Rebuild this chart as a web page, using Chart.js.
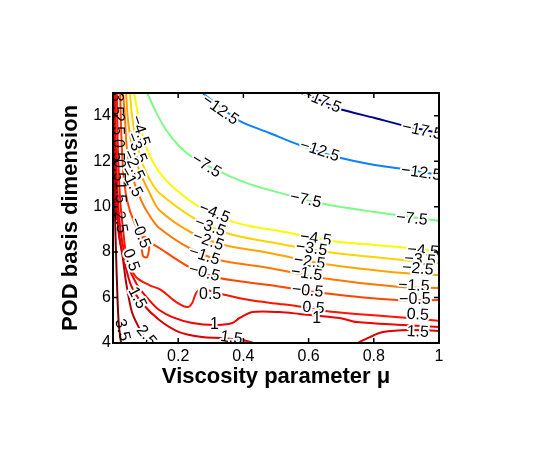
<!DOCTYPE html>
<html><head><meta charset="utf-8">
<script src="https://cdn.jsdelivr.net/npm/chart.js@4.4.1/dist/chart.umd.min.js"></script>
<style>html,body{margin:0;padding:0;background:#fff}</style>
</head><body>
<canvas id="c" width="540" height="457"></canvas>
<script>
// ---------- data ----------
const xTicks = [0.2, 0.4, 0.6, 0.8, 1];
const yTicks = [4, 6, 8, 10, 12, 14];
const levels = [-17.5, -12.5, -7.5, -4.5, -3.5, -2.5, -1.5, -0.5, -0.5, 0.5, 1, 1.5, 1.5, 2.5, 3.5];

// contour lines as [mu, dimension] pairs
const cM175 = [[0.578,15.0],[0.634,14.69],[0.686,14.34],[0.803,13.90],[0.911,13.50],[1.003,13.24]];
const cM125 = [[0.274,15.0],[0.326,14.43],[0.388,13.77],[0.480,13.24],[0.572,12.71],[0.686,12.18],[0.803,11.83],[0.911,11.61],[1.003,11.39]];
const cM75 = [[0.105,15.0],[0.132,14.16],[0.163,13.37],[0.203,12.67],[0.243,12.18],[0.317,11.61],[0.403,11.08],[0.480,10.73],[0.634,10.16],[0.803,9.76],[1.003,9.37]];
const cM45 = [[0.065,15.0],[0.074,14.25],[0.086,13.37],[0.108,12.40],[0.142,11.52],[0.194,10.73],[0.265,9.98],[0.342,9.46],[0.418,9.15],[0.511,8.93],[0.671,8.49],[0.803,8.31],[0.911,8.18],[1.003,8.00]];
const cM35 = [[0.052,15.0],[0.058,14.03],[0.071,12.93],[0.092,11.83],[0.117,11.08],[0.142,10.60],[0.243,9.54],[0.348,8.84],[0.480,8.44],[0.658,8.00],[0.889,7.65],[1.003,7.52]];
const cM25 = [[0.040,15.0],[0.046,13.81],[0.058,12.71],[0.080,11.61],[0.111,10.64],[0.142,9.85],[0.243,8.84],[0.342,8.31],[0.480,7.96],[0.649,7.48],[0.889,7.08],[1.003,6.99]];
const cM15 = [[0.031,15.0],[0.037,13.81],[0.043,12.49],[0.058,11.39],[0.086,10.29],[0.111,9.63],[0.142,9.06],[0.234,8.18],[0.326,7.65],[0.480,7.30],[0.640,6.86],[0.880,6.46],[1.003,6.42]];
const cM05 = [[0.022,15.0],[0.025,13.37],[0.031,11.61],[0.043,10.29],[0.065,9.32],[0.095,8.62],[0.142,8.18],[0.234,7.34],[0.326,6.86],[0.480,6.55],[0.643,6.20],[0.871,5.89],[1.003,5.89]];
const cM05loop = [[0.086,8.58],[0.092,7.83],[0.105,7.78],[0.111,8.36],[0.099,8.66],[0.086,8.58]];
const cP05 = [[0.012,15.0],[0.015,12.49],[0.022,10.29],[0.031,8.97],[0.043,7.74],[0.071,6.90],[0.111,6.55],[0.148,6.33],[0.194,5.80],[0.228,5.58],[0.243,5.76],[0.255,6.20],[0.271,6.38],[0.332,6.16],[0.418,5.89],[0.511,5.72],[0.582,5.58],[0.649,5.41],[0.788,5.23],[0.911,5.10],[1.003,4.97]];
const cP1 = [[0.006,15.0],[0.009,12.49],[0.015,10.29],[0.025,8.75],[0.043,7.56],[0.074,6.55],[0.111,5.89],[0.142,5.45],[0.182,5.14],[0.243,4.88],[0.311,4.79],[0.366,4.88],[0.388,5.10],[0.428,5.36],[0.511,5.36],[0.572,5.28],[0.695,5.10],[0.748,4.92],[0.889,4.79],[1.003,4.70]];
const cP15a = [[0.003,15.0],[0.006,12.49],[0.012,10.29],[0.018,8.75],[0.034,7.65],[0.055,6.55],[0.089,5.76],[0.142,5.01],[0.203,4.48],[0.274,4.26],[0.332,4.22],[0.397,4.13],[0.443,3.96]];
const cP15b = [[0.745,3.96],[0.788,4.26],[0.828,4.48],[0.911,4.57],[1.003,4.53]];
const cP25 = [[0.002,15.0],[0.003,12.49],[0.009,10.29],[0.018,8.88],[0.031,7.65],[0.040,6.68],[0.058,5.36],[0.080,4.66],[0.105,3.96]];
const cP35 = [[0.0,15.0],[0.002,12.49],[0.005,10.29],[0.009,8.09],[0.014,5.89],[0.018,4.79],[0.025,3.96]];
const contours = [cM175, cM125, cM75, cM45, cM35, cM25, cM15, cM05, cM05loop, cP05, cP1, cP15a, cP15b, cP25, cP35];

// inline contour labels
const labelText = ['−17.5','−17.5','−12.5','−12.5','−12.5','−7.5','−7.5','−7.5',
  '−4.5','−3.5','−2.5','−1.5',
  '−4.5','−3.5','−2.5','−1.5','−0.5',
  '−4.5','−3.5','−2.5','−1.5','−0.5','0.5','1',
  '−4.5','−3.5','−2.5','−1.5','−0.5','0.5','1.5',
  '0.5','1','1.5','1.5','2.5','3.5','0.5','−0.5',
  '3.5','2.5','0.5','0.5','1.5','2.5'];
const labelMu = [0.640,0.948,0.329,0.634,0.945,0.286,0.591,0.917,
  0.083,0.071,0.062,0.055,
  0.311,0.298,0.292,0.280,0.280,
  0.622,0.609,0.603,0.594,0.597,0.615,0.625,
  0.951,0.942,0.935,0.923,0.926,0.935,0.935,
  0.298,0.311,0.363,0.074,0.102,0.028,0.055,0.083,
  0.009,0.012,0.015,0.018,0.022,0.022];
const labelDim = [14.65,13.33,14.25,12.45,11.48,11.79,10.29,9.46,
  13.33,12.58,11.83,11.08,
  9.72,9.10,8.49,7.83,7.08,
  8.58,8.14,7.56,7.04,6.29,5.54,5.06,
  8.05,7.65,7.26,6.51,5.89,5.23,4.48,
  6.11,4.79,4.22,5.98,4.31,4.57,7.65,8.84,
  14.52,13.64,12.49,11.61,10.64,9.32];
const labelAngle = [23,12,35,18,8,32,12,6,
  72,68,65,62,
  22,20,20,18,15,
  8,8,8,8,6,5,0,
  5,5,5,3,0,3,3,
  0,0,8,62,50,75,70,68,
  90,90,90,90,88,80];

// ---------- styling ----------
const FONT = "'Liberation Sans', Arial, Helvetica, sans-serif";
const levelColor = {
  '-17.5': 'rgb(0,0,140)', '-12.5': 'rgb(10,130,255)', '-7.5': 'rgb(125,250,135)',
  '-4.5': 'rgb(250,250,0)', '-3.5': 'rgb(255,210,0)', '-2.5': 'rgb(255,165,0)',
  '-1.5': 'rgb(255,118,0)', '-0.5': 'rgb(255,70,0)', '0.5': 'rgb(255,20,0)',
  '1': 'rgb(245,0,0)', '1.5': 'rgb(222,0,0)', '2.5': 'rgb(176,0,0)', '3.5': 'rgb(128,0,0)'
};

const datasets = contours.map((pts, i) => ({
  data: pts.map(p => ({x: p[0], y: p[1]})),
  borderColor: levelColor[String(levels[i])],
  borderWidth: 2,
  showLine: true,
  pointRadius: 0,
  tension: 0.3,
  fill: false
}));

const labelPlugin = {
  id: 'clabels',
  afterDatasetsDraw(chart) {
    const {ctx, chartArea: a, scales: {x, y}} = chart;
    ctx.save();
    ctx.beginPath(); ctx.rect(a.left, a.top, a.right - a.left, a.bottom - a.top); ctx.clip();
    ctx.font = `16px ${FONT}`;
    ctx.textAlign = 'center'; ctx.textBaseline = 'middle';
    ctx.lineJoin = 'round';
    labelText.forEach((t, i) => {
      ctx.save();
      ctx.translate(x.getPixelForValue(labelMu[i]), y.getPixelForValue(labelDim[i]));
      ctx.rotate(labelAngle[i] * Math.PI / 180);
      if (labelMu[i] > 0.03) { ctx.strokeStyle = '#fff'; ctx.lineWidth = 4; ctx.strokeText(t, 0, 0); }
      ctx.fillStyle = '#000'; ctx.fillText(t, 0, 0);
      ctx.restore();
    });
    ctx.restore();
  }
};

const framePlugin = {
  id: 'frame',
  afterDraw(chart) {
    const {ctx, chartArea: a, scales: {x, y}} = chart;
    ctx.save();
    ctx.strokeStyle = '#000';
    ctx.lineWidth = 1.5;
    ctx.beginPath();
    xTicks.forEach(v => {
      const px = x.getPixelForValue(v);
      ctx.moveTo(px, a.bottom); ctx.lineTo(px, a.bottom - 5);
      ctx.moveTo(px, a.top); ctx.lineTo(px, a.top + 5);
    });
    yTicks.forEach(v => {
      const py = y.getPixelForValue(v);
      ctx.moveTo(a.left, py); ctx.lineTo(a.left + 5, py);
      ctx.moveTo(a.right, py); ctx.lineTo(a.right - 5, py);
    });
    ctx.stroke();
    ctx.lineWidth = 2;
    ctx.strokeRect(a.left, a.top, a.right - a.left, a.bottom - a.top);
    ctx.restore();
  }
};

new Chart(document.getElementById('c'), {
  type: 'scatter',
  data: {datasets},
  options: {
    responsive: false, animation: false, devicePixelRatio: 1,
    layout: {padding: {left: 0, right: 101, top: 93, bottom: 0}},
    plugins: {legend: {display: false}, tooltip: {enabled: false}},
    scales: {
      x: {
        type: 'linear', position: 'bottom', min: 0, max: 1,
        grid: {display: false, drawTicks: false}, border: {display: false},
        afterBuildTicks: s => { s.ticks = xTicks.map(v => ({value: v})); },
        afterFit: s => { s.height = 114; },
        ticks: {padding: 4, color: '#000', font: {family: FONT, size: 16}, maxRotation: 0, autoSkip: false, callback: v => String(v)},
        title: {display: true, text: 'Viscosity parameter μ', color: '#000', font: {family: FONT, size: 22, weight: 'bold'}, padding: {top: 0, bottom: 67}}
      },
      y: {
        type: 'linear', position: 'left', min: 4, max: 15,
        grid: {display: false, drawTicks: false}, border: {display: false},
        afterBuildTicks: s => { s.ticks = yTicks.map(v => ({value: v})); },
        afterFit: s => { s.width = 113; },
        ticks: {padding: 2, color: '#000', font: {family: FONT, size: 16}, autoSkip: false, callback: v => String(v)},
        title: {display: true, text: 'POD basis dimension', color: '#000', font: {family: FONT, size: 22, weight: 'bold'}, padding: {top: 58, bottom: 0}}
      }
    }
  },
  plugins: [labelPlugin, framePlugin]
});
</script>
</body></html>
